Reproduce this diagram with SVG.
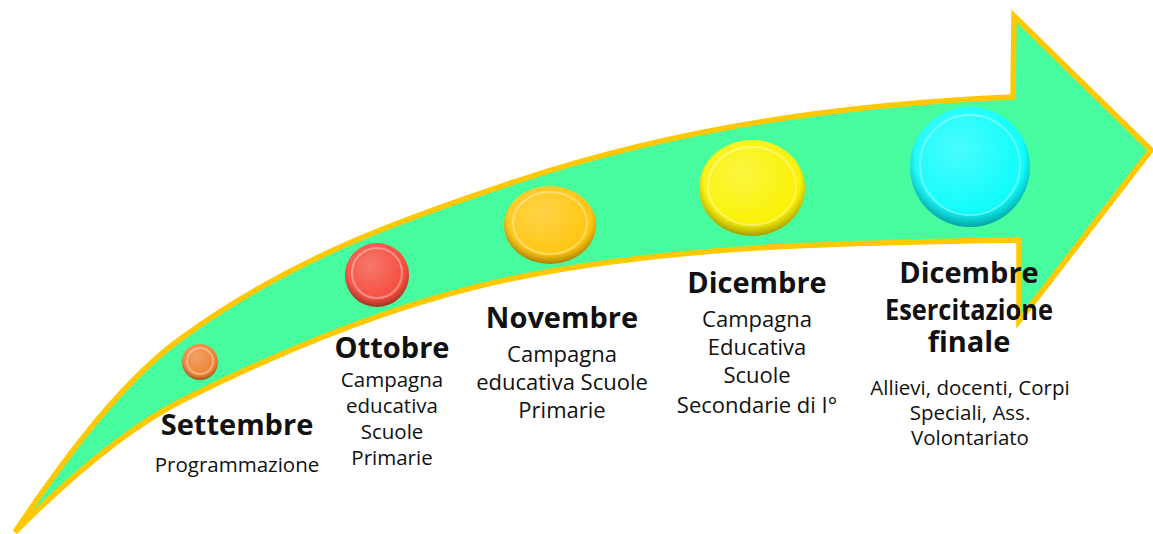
<svg xmlns="http://www.w3.org/2000/svg" width="1153" height="534" viewBox="0 0 1153 534">
<defs>
<style>
.arrow{fill:#47FC9E;stroke:#FFC800;stroke-width:5.5;stroke-linejoin:miter;stroke-miterlimit:10}
.t{font-family:"Open Sans","Liberation Sans",sans-serif;fill:#111;text-anchor:middle}
.h{font-weight:700;font-size:29px}
.s{font-size:20.5px}
.m{font-size:22px}
.s2{font-size:20.5px}
.rim{fill:url(#rimg)}
.ring{fill:none;stroke:#fff;stroke-opacity:0.35;stroke-width:2}
</style>
<radialGradient id="rimg" cx="50%" cy="42%" r="58%">
<stop offset="0.78" stop-color="#000" stop-opacity="0"/>
<stop offset="1" stop-color="#000" stop-opacity="0.35"/>
</radialGradient>
<radialGradient id="hl" cx="40%" cy="35%" r="60%">
<stop offset="0" stop-color="#fff" stop-opacity="0.25"/>
<stop offset="1" stop-color="#fff" stop-opacity="0"/>
</radialGradient>
</defs>
<rect width="1153" height="534" fill="#fff"/>
<g id="arrow">
<path class="arrow" d="M15,532 C71,448 127,377 183,337 C295,256 408,217 520,180 C684,126 849,104 1013,97 L1014,16 L1151,150 L1019,321 L1019,240 C852,243 686,244 520,277 C408,299 295,344 183,400 C127,428 71,476 15,532 Z"/>
</g>
<g id="node-settembre">
<circle cx="200" cy="362" r="18" fill="#EE8030"/>
<circle cx="200" cy="362" r="18" class="rim"/>
<circle cx="200" cy="362" r="18" fill="url(#hl)"/>
<circle cx="200" cy="361" r="13" class="ring"/>
<text class="t h" x="237" y="435">Settembre</text>
<text class="t s" x="237" y="472">Programmazione</text>
</g>
<g id="node-ottobre">
<circle cx="377" cy="275" r="32" fill="#F44A3A"/>
<circle cx="377" cy="275" r="32" class="rim"/>
<circle cx="377" cy="275" r="32" fill="url(#hl)"/>
<circle cx="377" cy="273" r="25" class="ring"/>
<text class="t h" x="392" y="358">Ottobre</text>
<text class="t s" x="392" y="387">Campagna</text>
<text class="t s" x="392" y="413">educativa</text>
<text class="t s" x="392" y="439">Scuole</text>
<text class="t s" x="392" y="465">Primarie</text>
</g>
<g id="node-novembre">
<ellipse cx="550" cy="225" rx="46" ry="39" fill="#FFC50C"/>
<ellipse cx="550" cy="225" rx="46" ry="39" class="rim"/>
<ellipse cx="550" cy="225" rx="46" ry="39" fill="url(#hl)"/>
<ellipse cx="550" cy="223" rx="37" ry="31" class="ring"/>
<text class="t h" x="562" y="328">Novembre</text>
<text class="t m" x="562" y="362">Campagna</text>
<text class="t m" x="562" y="390">educativa Scuole</text>
<text class="t m" x="562" y="418">Primarie</text>
</g>
<g id="node-dicembre">
<ellipse cx="752" cy="188" rx="53" ry="48" fill="#FAF200"/>
<ellipse cx="752" cy="188" rx="53" ry="48" class="rim"/>
<ellipse cx="752" cy="188" rx="53" ry="48" fill="url(#hl)"/>
<ellipse cx="752" cy="186" rx="44" ry="39" class="ring"/>
<text class="t h" x="757" y="293">Dicembre</text>
<text class="t m" x="757" y="327">Campagna</text>
<text class="t m" x="757" y="355">Educativa</text>
<text class="t m" x="757" y="383">Scuole</text>
<text class="t m" x="757" y="413">Secondarie di I°</text>
</g>
<g id="node-dicembre-finale">
<circle cx="970" cy="167" r="60" fill="#0CFCFC"/>
<circle cx="970" cy="167" r="60" class="rim"/>
<circle cx="970" cy="167" r="60" fill="url(#hl)"/>
<circle cx="970" cy="165" r="50" class="ring"/>
<text class="t h" x="969" y="283">Dicembre</text>
<text class="t h" x="969" y="320" font-size="27" textLength="168" lengthAdjust="spacingAndGlyphs">Esercitazione</text>
<text class="t h" x="969" y="352">finale</text>
<text class="t s2" x="970" y="395">Allievi, docenti, Corpi</text>
<text class="t s2" x="970" y="420">Speciali, Ass.</text>
<text class="t s2" x="970" y="445">Volontariato</text>
</g>
</svg>
